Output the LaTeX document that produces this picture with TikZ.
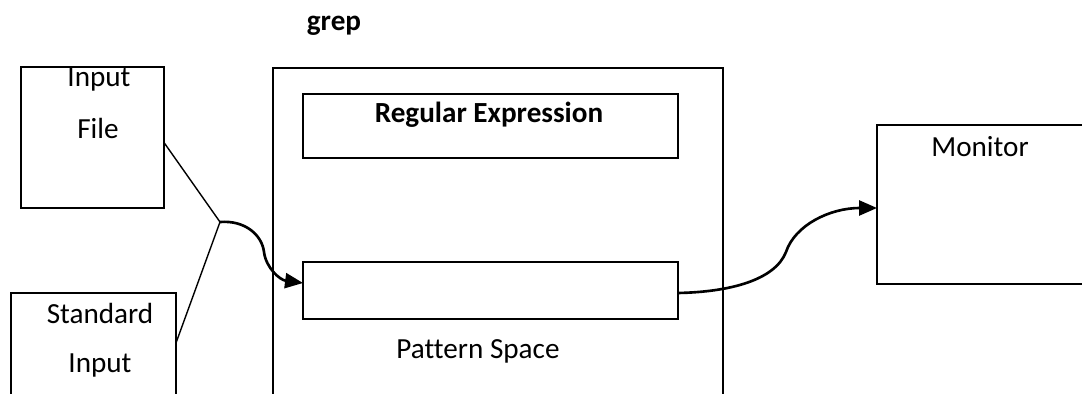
\documentclass[tikz,border=0pt]{standalone}
\usepackage{fontspec}
\setmainfont[Ligatures=NoCommon]{Carlito}
\usetikzlibrary{arrows.meta}

\begin{document}
\begin{tikzpicture}[x=0.02cm, y=-0.02cm, font=\fontsize{16.6}{19}\selectfont, every node/.style={outer sep=0pt, inner sep=0pt}, box/.style={draw, line width=0.85pt}, flow/.style={line width=1.5pt, -{Triangle[length=0.36cm, width=0.3cm]}}, line join=miter]
	
	\useasboundingbox (0, 0) rectangle (1082, 394);
	\clip (0, 0) rectangle (1082, 394);
	
	% Nguon vao
	\node[box, minimum width=2.86cm, minimum height=2.82cm] (infile) at (92.5, 137.5) {};
	\node[anchor=base] (infiletop) at (99, 87) {Input};
	\node[anchor=base] (infilebot) at (98, 139) {File};
	
	\node[box, minimum width=3.3cm, minimum height=2.94cm] (stdin) at (93.5, 366.5) {};
	\node[anchor=base] (stdintop) at (100, 324) {Standard};
	\node[anchor=base] (stdinbot) at (100, 373) {Input};
	
	% grep
	\node[anchor=base, font=\fontsize{16.6}{19}\selectfont\bfseries] (greplabel) at (334, 31) {grep};
	\node[box, minimum width=9cm, minimum height=7.04cm] (grep) at (498, 244) {};
	
	\node[box, minimum width=7.5cm, minimum height=1.28cm] (regex) at (490.5, 126) {};
	\node[anchor=base, font=\fontsize{16.6}{19}\selectfont\bfseries] (regexlabel) at (489, 123) {Regular Expression};
	
	\node[box, minimum width=7.5cm, minimum height=1.14cm] (pattern) at (490.5, 290.5) {};
	\node[anchor=base] (patternlabel) at (478, 359) {Pattern Space};
	
	% Man hinh
	\node[box, minimum width=5.06cm, minimum height=3.18cm] (monitor) at (1003.5, 204.5) {};
	\node[anchor=base] (monitorlabel) at (980, 157) {Monitor};
	
	% Duong noi
	\coordinate (junc) at (220, 222);
	\coordinate (bendin) at (264, 252);
	\coordinate (bendout) at (786, 252);
	
	\draw[line width=0.8pt] ([yshift=-0.1cm]infile.east) -- (junc);
	\draw[line width=0.8pt] ([yshift=0.47cm]stdin.east) -- (junc);
	
	\draw[flow] (junc) .. controls (245, 220) and (262, 235) .. (bendin) .. controls (266, 268) and (280, 280) .. ([yshift=0.15cm]pattern.west);
	\draw[flow] ([yshift=-0.05cm]pattern.east) .. controls (730, 292) and (775, 280) .. (bendout) .. controls (795, 225) and (830, 208) .. ([yshift=-0.07cm]monitor.west);
	
\end{tikzpicture}
\end{document}
